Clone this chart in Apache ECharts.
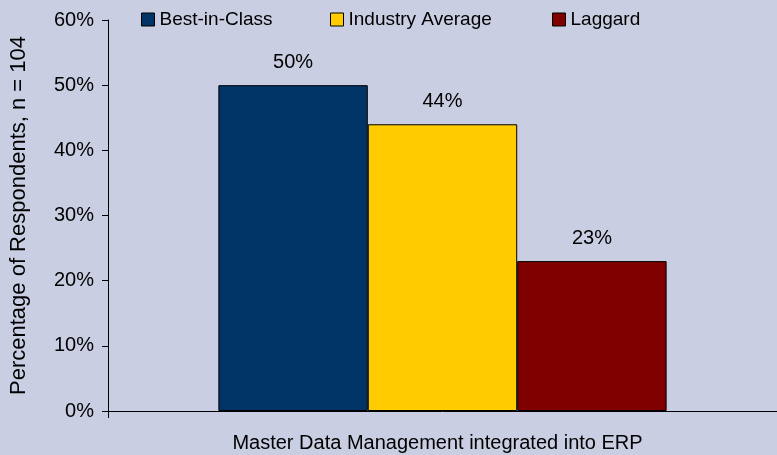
<!DOCTYPE html>
<html>
<head>
<meta charset="utf-8">
<script src="https://cdn.jsdelivr.net/npm/echarts@6/dist/echarts.min.js"></script>
<style>
  html, body { margin: 0; padding: 0; background: #C9CEE2; }
  #chart { width: 777px; height: 455px; }
</style>
</head>
<body>
<div id="chart"></div>
<script>
// ── Data ───────────────────────────────────────────────────────────────────
const categories = ['Master Data Management integrated into ERP'];
const seriesNames = ['Best-in-Class', 'Industry Average', 'Laggard'];
const bestInClass = [50];
const industryAverage = [44];
const laggard = [23];
const seriesColors = ['#003366', '#FFCC00', '#800000'];

const FONT = '"Liberation Sans", Arial, sans-serif';

const chart = echarts.init(document.getElementById('chart'), null, { renderer: 'canvas' });

const makeSeries = (name, data, color) => ({
  name,
  type: 'bar',
  data,
  barGap: '0%',
  barCategoryGap: '33%',
  itemStyle: { color, borderColor: '#000', borderWidth: 1 },
  label: {
    show: true,
    position: 'top',
    distance: 13,
    formatter: '{c}%',
    color: '#000',
    fontFamily: FONT,
    fontSize: 20,
  },
});

// one legend block per series so each sits where the reference puts it
const legendLefts = [141, 330, 552];
const legends = seriesNames.map((name, i) => ({
  top: 10,
  left: legendLefts[i],
  padding: 0,
  itemWidth: 13,
  itemHeight: 13,
  itemGap: 0,
  icon: 'rect',
  itemStyle: { borderColor: '#000', borderWidth: 1 },
  textStyle: { fontFamily: FONT, fontSize: 19, color: '#000' },
  data: [name],
}));

chart.setOption({
  backgroundColor: '#C9CEE2',
  animation: false,
  legend: legends,
  grid: { left: 107, right: 0, top: 20, bottom: 44 },
  xAxis: {
    type: 'category',
    data: categories,
    axisLine: { lineStyle: { color: '#000', width: 1 } },
    axisTick: { show: true, length: 7, lineStyle: { color: '#000' } },
    axisLabel: { fontFamily: FONT, fontSize: 20, color: '#000', margin: 22, padding: [0, 10, 0, 0] },
  },
  yAxis: {
    type: 'value',
    min: 0,
    max: 60,
    interval: 10,
    name: 'Percentage of Respondents, n = 104',
    nameLocation: 'middle',
    nameGap: 78,
    nameTextStyle: { fontFamily: FONT, fontSize: 22, color: '#000' },
    axisLine: { show: true, lineStyle: { color: '#000', width: 1 } },
    axisTick: { show: true, length: 6, lineStyle: { color: '#000' } },
    axisLabel: { formatter: '{value}%', fontFamily: FONT, fontSize: 20, color: '#000', margin: 14 },
    splitLine: { show: false },
  },
  series: [
    makeSeries(seriesNames[0], bestInClass, seriesColors[0]),
    makeSeries(seriesNames[1], industryAverage, seriesColors[1]),
    makeSeries(seriesNames[2], laggard, seriesColors[2]),
  ],
});
</script>
</body>
</html>
